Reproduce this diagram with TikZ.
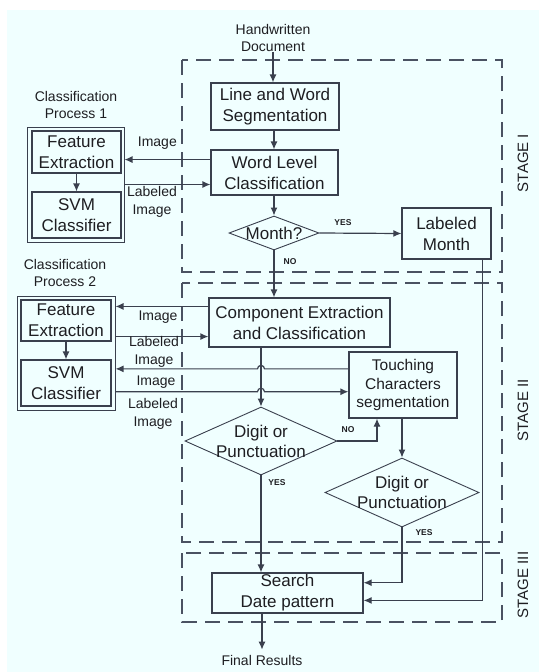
\documentclass[tikz,border=0pt]{standalone}
\usepackage{fontspec}
\setmainfont{Liberation Sans}
\usepackage{xcolor}
\usetikzlibrary{shapes.geometric, arrows.meta, positioning, calc}
\definecolor{bgcol}{RGB}{240,255,255}
\definecolor{linecol}{RGB}{58,64,78}
\definecolor{dashcol}{RGB}{74,82,98}
\definecolor{txtcol}{RGB}{30,30,34}
\tikzset{
    box/.style={rectangle, draw=linecol, line width=1.2pt, text centered, align=center, inner sep=0pt, font=\fontsize{17}{21}\selectfont},
    cpbox/.style={rectangle, draw=linecol, line width=1pt, inner sep=0pt},
    decision/.style={diamond, draw=linecol, line width=0.9pt, inner sep=0pt},
    dtext/.style={align=center, inner sep=0pt, font=\fontsize{17}{20}\selectfont},
    note/.style={align=center, inner sep=0pt, font=\fontsize{14}{17}\selectfont},
    lbl/.style={align=center, inner sep=0pt, font=\fontsize{14}{18}\selectfont},
    yn/.style={inner sep=0pt, font=\bfseries\fontsize{8.5}{10}\selectfont},
    stagelbl/.style={rotate=90, inner sep=0pt, font=\fontsize{15}{18}\selectfont}
}

\begin{document}
\begin{tikzpicture} [
    x=1pt, y=-1pt, text=txtcol,
    flow/.style={-{Latex[length=8pt,width=7pt]}, line width=1.2pt, draw=linecol},
    stagebox/.style={draw=dashcol, line width=2.6pt, dash pattern=on 15pt off 8pt}
]
    \useasboundingbox (0,0) rectangle (539,672);
    \fill[bgcol] (7,10) rectangle (539,672);

    % Stage frames
    \draw[stagebox] (182,60) rectangle (502,272);
    \draw[stagebox] (182,283) rectangle (502,542);
    \draw[stagebox] (182,553) rectangle (502,622);
    \node[stagelbl] (st1) at (523,163) {STAGE I};
    \node[stagelbl] (st2) at (523,410) {STAGE II};
    \node[stagelbl] (st3) at (523,585) {STAGE III};

    % Input
    \node[note] (hw) at (273,38) {Handwritten\\Document};

    % Stage I
    \node[box, minimum width=128, minimum height=47] (seg) at (275,106.5) {Line and Word\\Segmentation};
    \node[box, minimum width=127, minimum height=45] (wlc) at (274.5,172.5) {Word Level\\Classification};
    \node[decision, minimum width=90, minimum height=34, label={[dtext]center:Month?}] (month) at (274,233) {};
    \node[box, minimum width=89, minimum height=51] (lmonth) at (446.5,233.5) {Labeled\\Month};

    % Classification Process 1
    \node[note] (cpat) at (76,105) {Classification\\Process 1};
    \node[cpbox, minimum width=97, minimum height=115] (cpa) at (75.5,184.5) {};
    \node[box, minimum width=89, minimum height=42] (fea) at (76.5,152) {Feature\\Extraction};
    \node[box, minimum width=89, minimum height=46] (svma) at (76.5,215) {SVM\\Classifier};

    % Stage II
    \node[box, minimum width=181, minimum height=49] (comp) at (299.5,322.5) {Component Extraction\\and Classification};
    \node[box, minimum width=108, minimum height=66, font=\fontsize{15.5}{18.5}\selectfont] (touch) at (403,385) {Touching\\Characters\\segmentation};
    \node[decision, minimum width=152, minimum height=68, label={[dtext]center:Digit or\\Punctuation}] (dig1) at (261,441) {};
    \node[decision, minimum width=154, minimum height=69, label={[dtext]center:Digit or\\Punctuation}] (dig2) at (402,492.5) {};

    % Classification Process 2
    \node[note] (cpbt) at (65,272.5) {Classification\\Process 2};
    \node[cpbox, minimum width=98, minimum height=114] (cpb) at (66,353) {};
    \node[box, minimum width=90, minimum height=41] (feb) at (66,320.5) {Feature\\Extraction};
    \node[box, minimum width=90, minimum height=46] (svmb) at (66,383) {SVM\\Classifier};

    % Stage III
    \node[box, minimum width=151, minimum height=40] (search) at (287.5,593) {Search\\Date pattern};
    \node[note] (final) at (262,660) {Final Results};

    % Main flow
    \draw[flow] (hw.south) -- (hw.south |- seg.north);
    \draw[flow] (seg.south -| month.north) -- (wlc.north -| month.north);
    \draw[flow] (wlc.south -| month.north) -- (month.north);
    \draw[flow] (month.east) -- (lmonth.west);
    \draw[flow] (month.south) -- (month.south |- comp.north);
    \draw[flow] (dig1.north |- comp.south) -- (dig1.north);
    \coordinate (touchC) at ([xshift=-26pt]touch.south);
    \draw[flow] (dig1.east) -| (touchC);
    \draw[flow] (touch.south -| dig2.north) -- (dig2.north);
    \draw[flow] (dig1.south) -- (dig1.south |- search.north);
    \coordinate (srchA) at ($(search.north east)!0.25!(search.south east)$);
    \coordinate (srchB) at ($(search.north east)!0.68!(search.south east)$);
    \draw[flow] (dig2.south) |- (srchA);
    \coordinate (lmC) at ([xshift=36pt]lmonth.south);
    \draw[flow] (lmC) |- (srchB);
    \draw[flow] (final.north |- search.south) -- ([yshift=5pt]final.north);
    \draw[flow] (fea.south) -- (svma.north);
    \draw[flow] (feb.south) -- (svmb.north);

    % Classification Process 1 links
    \coordinate (wlcA) at ($(wlc.north west)!0.22!(wlc.south west)$);
    \coordinate (wlcB) at ($(wlc.north west)!0.76!(wlc.south west)$);
    \draw[flow] (wlcA) -- (wlcA -| cpa.east);
    \draw[flow] (wlcB -| cpa.east) -- (wlcB);
    \node[lbl, anchor=east] (imga) at (177,143) {Image};
    \node[lbl] (limga) at (152,202) {Labeled\\Image};

    % Classification Process 2 links
    \coordinate (compA) at ($(comp.north west)!0.18!(comp.south west)$);
    \coordinate (compB) at ($(comp.north west)!0.78!(comp.south west)$);
    \coordinate (touchA) at ($(touch.north west)!0.26!(touch.south west)$);
    \coordinate (touchB) at ($(touch.north west)!0.6!(touch.south west)$);
    \draw[flow] (compA) -- (compA -| cpb.east);
    \draw[flow] (compB -| cpb.east) -- (compB);
    \draw[flow] (touchA) -- ([xshift=3.5pt]touchA -| dig1.north) arc[start angle=0, end angle=180, radius=3.5pt] -- (touchA -| cpb.east);
    \draw[flow] (touchB -| cpb.east) -- ([xshift=-3.5pt]touchB -| dig1.north) arc[start angle=180, end angle=0, radius=3.5pt] -- (touchB);
    \node[lbl] (imgb) at (158,317) {Image};
    \node[lbl] (limgb) at (154,352) {Labeled\\Image};
    \node[lbl] (imgc) at (156,382) {Image};
    \node[lbl] (limgc) at (153,414) {Labeled\\Image};

    % Branch labels
    \node[yn] (yes1) at (343,223) {YES};
    \node[yn] (no1) at (290,262) {NO};
    \node[yn] (no2) at (348,430) {NO};
    \node[yn] (yes2) at (277,483) {YES};
    \node[yn] (yes3) at (424,533) {YES};
\end{tikzpicture}
\end{document}
